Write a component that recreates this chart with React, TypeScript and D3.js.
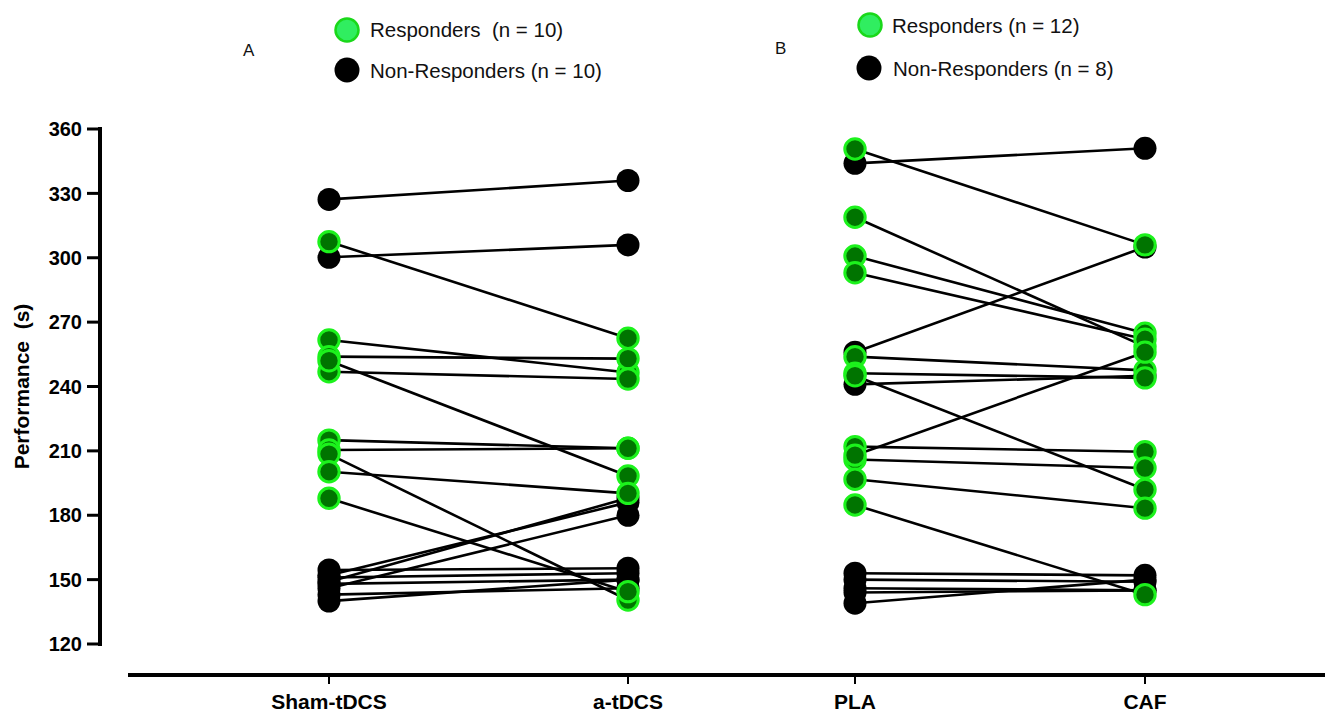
import React from "react";
import * as d3 from "d3";

// Panel A: Sham-tDCS -> a-tDCS
const panelACategories = ["Sham-tDCS", "a-tDCS"];
const aRespPre = [307.5, 261.7, 253.9, 246.9, 252, 215, 210.4, 208.5, 200.3, 187.9];
const aRespPost = [262.5, 246.5, 253, 243.5, 198.3, 211.2, 211.2, 140.5, 190.2, 144.4];
const aNonPre = [327.2, 300.2, 154.5, 152, 149, 146, 140, 148, 143, 151];
const aNonPost = [336, 306, 155.3, 186, 188, 180, 150, 150, 146, 153];

// Panel B: PLA -> CAF
const panelBCategories = ["PLA", "CAF"];
const bRespPre = [350.7, 318.9, 300.8, 293, 253.9, 246.2, 245, 212, 206, 208, 196.8, 184.8];
const bRespPost = [306, 258.6, 264.8, 262, 247.5, 244, 192, 209.6, 202, 256, 183.3, 143];
const bNonPre = [344, 256, 241, 153, 150, 146, 144, 139];
const bNonPost = [351, 305, 245, 152, 149, 145, 145, 150];

const yTicks = [120, 150, 180, 210, 240, 270, 300, 330, 360];

const legendA = ["Responders  (n = 10)", "Non-Responders (n = 10)"];
const legendB = ["Responders (n = 12)", "Non-Responders (n = 8)"];

const W = 1325;
const H = 716;
const FONT = "'Liberation Sans', Arial, Helvetica, sans-serif";
const GREEN_FILL = "#007400";
const GREEN_STROKE = "#1cf21c";
const R = 11.5;

export default function App() {
  const y = d3.scaleLinear().domain([120, 360]).range([644, 129]);
  const xA = d3.scalePoint<string>().domain(panelACategories).range([329, 628]);
  const xB = d3.scalePoint<string>().domain(panelBCategories).range([855, 1145]);

  const line = d3
    .line<[number, number]>()
    .x((d) => d[0])
    .y((d) => d[1]);

  const renderPanel = (
    x: d3.ScalePoint<string>,
    cats: string[],
    rPre: number[],
    rPost: number[],
    nPre: number[],
    nPost: number[]
  ) => {
    const x0 = x(cats[0]) as number;
    const x1 = x(cats[1]) as number;
    const nonPairs = nPre.map((v, i) => [v, nPost[i]]);
    const respPairs = rPre.map((v, i) => [v, rPost[i]]);
    return (
      <g>
        {[...nonPairs, ...respPairs].map((p, i) => (
          <path
            key={"l" + i}
            d={line([[x0, y(p[0])], [x1, y(p[1])]]) as string}
            stroke="#000"
            strokeWidth={2.6}
            fill="none"
          />
        ))}
        {nonPairs.map((p, i) => (
          <g key={"n" + i}>
            <circle cx={x0} cy={y(p[0])} r={R} fill="#000" />
            <circle cx={x1} cy={y(p[1])} r={R} fill="#000" />
          </g>
        ))}
        {respPairs.map((p, i) => (
          <g key={"r" + i}>
            <circle cx={x0} cy={y(p[0])} r={R - 1.3} fill={GREEN_FILL} stroke={GREEN_STROKE} strokeWidth={3} />
            <circle cx={x1} cy={y(p[1])} r={R - 1.3} fill={GREEN_FILL} stroke={GREEN_STROKE} strokeWidth={3} />
          </g>
        ))}
      </g>
    );
  };

  return (
    <svg width={W} height={H} style={{ position: "absolute", left: 0, top: 0, background: "#fff" }}>
      <rect x={0} y={0} width={W} height={H} fill="#fff" />
      {/* Legends */}
      <text x={243} y={56} fontFamily={FONT} fontSize={17} fill="#111">A</text>
      <circle cx={347} cy={30} r={11.5} fill="#30ee60" stroke="#1ad81a" strokeWidth={2.5} />
      <text x={370} y={37} fontFamily={FONT} fontSize={20.5} fill="#111" style={{ whiteSpace: "pre" }}>{legendA[0]}</text>
      <circle cx={347} cy={70} r={12.5} fill="#000" />
      <text x={370} y={78} fontFamily={FONT} fontSize={20.5} fill="#111">{legendA[1]}</text>

      <text x={775} y={54} fontFamily={FONT} fontSize={17} fill="#111">B</text>
      <circle cx={870} cy={25} r={11.5} fill="#30ee60" stroke="#1ad81a" strokeWidth={2.5} />
      <text x={892} y={33} fontFamily={FONT} fontSize={20.5} fill="#111">{legendB[0]}</text>
      <circle cx={869} cy={68} r={12.5} fill="#000" />
      <text x={893} y={76} fontFamily={FONT} fontSize={20.5} fill="#111">{legendB[1]}</text>

      {/* Y axis */}
      <line x1={100} x2={100} y1={y(360) - 2} y2={y(120) + 2} stroke="#000" strokeWidth={4} />
      {yTicks.map((t) => (
        <g key={t}>
          <line x1={87} x2={100} y1={y(t)} y2={y(t)} stroke="#000" strokeWidth={3} />
          <text
            x={82}
            y={y(t)}
            dy="0.36em"
            textAnchor="end"
            fontFamily={FONT}
            fontWeight="bold"
            fontSize={20}
            fill="#000"
          >
            {t}
          </text>
        </g>
      ))}
      <text
        transform={`translate(29, ${y(240)}) rotate(-90)`}
        textAnchor="middle"
        fontFamily={FONT}
        fontWeight="bold"
        fontSize={21}
        fill="#000"
        style={{ whiteSpace: "pre" }}
      >
        Performance  (s)
      </text>

      {/* X axis */}
      <line x1={128} x2={W} y1={675} y2={675} stroke="#000" strokeWidth={4} />
      {[...panelACategories.map((c) => [c, xA(c)]), ...panelBCategories.map((c) => [c, xB(c)])].map(
        ([c, xv]) => (
          <g key={c as string}>
            <line x1={xv as number} x2={xv as number} y1={675} y2={684} stroke="#000" strokeWidth={2} />
            <text
              x={xv as number}
              y={709}
              textAnchor="middle"
              fontFamily={FONT}
              fontWeight="bold"
              fontSize={21}
              fill="#000"
            >
              {c as string}
            </text>
          </g>
        )
      )}

      {renderPanel(xA, panelACategories, aRespPre, aRespPost, aNonPre, aNonPost)}
      {renderPanel(xB, panelBCategories, bRespPre, bRespPost, bNonPre, bNonPost)}
    </svg>
  );
}
